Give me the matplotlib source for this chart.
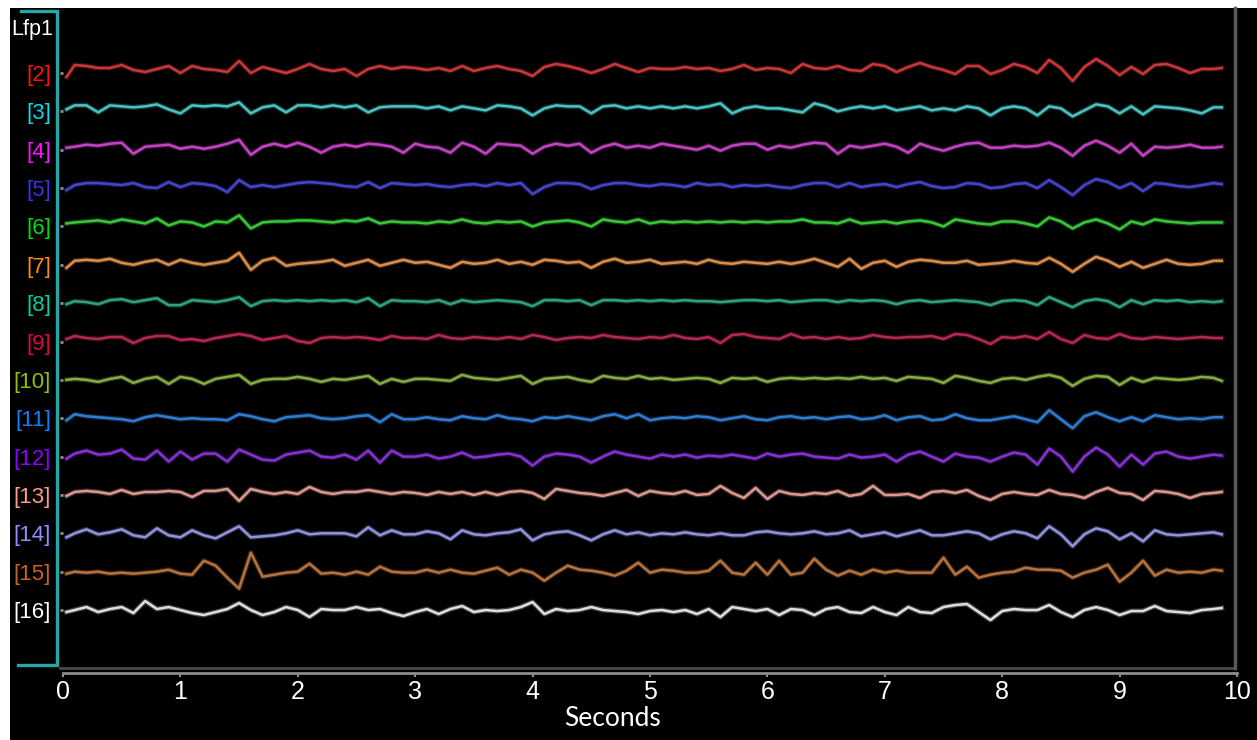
import numpy as np
import matplotlib
matplotlib.use("Agg")
import matplotlib.pyplot as plt
from matplotlib.lines import Line2D
from matplotlib.patches import Rectangle

# ---------------- data ----------------
channels = ['[2]', '[3]', '[4]', '[5]', '[6]', '[7]', '[8]', '[9]', '[10]',
            '[11]', '[12]', '[13]', '[14]', '[15]', '[16]']
label_colors = ['#ff1010', '#00e0ea', '#ff10ff', '#3535e0', '#00e000', '#ff8c00',
                '#00d2a0', '#e6004a', '#8cc400', '#0a82ff', '#8c00ff', '#ff9a86',
                '#8c90ff', '#c8641a', '#ffffff']
trace_colors = ['#d23a3a', '#50cccc', '#cc46cc', '#4848d4', '#3cd03c', '#e69450',
                '#34aa82', '#be2a52', '#8cb446', '#3282dc', '#8c34dc', '#e6a096',
                '#9898e8', '#be7841', '#e8e8e8']
# DC offset of each channel (px, up positive)
dc_offset = [4, 3, 3, 3, 4, 2, 2, 3.5, 1, 0, 0, 2, -1, -1, -1]

# samples every 0.1 s (first at 0.03 s, last at 9.87 s); deflection in px, up positive
lfp = {
 '[2]': [-8, 4, 3, 1, 1, 4, -1, -3, 0, 3, -4, 3, 0, -1, -3, 8, -4, 2, -1, -4,
         0, 5, 0, -2, 0, -7, 0, 3, 0, 2, 1, -1, 1, -2, 3, -2, 1, 3, 0, -2,
         -7, 2, 5, 3, 0, -4, 0, 5, 1, -3, 1, 0, 0, 2, 0, 1, -2, 0, 4, -1,
         1, 0, -4, 5, 1, 0, 3, -1, -2, 5, 3, -3, 2, 6, 2, -1, -5, 3, 3, -5,
         -1, 5, 2, -4, 9, 1, -12, 2, 10, 3, -6, 2, -5, 4, 5, 1, -4, 0, 0, 1],
 '[3]': [-1, 3, 3, -4, 3, 2, 1, 2, 4, -1, -5, 3, 2, 3, 2, 6, -5, 1, 3, -4,
         3, 3, 1, 3, 1, 3, -4, 1, 2, 2, 2, 0, 2, -2, 2, 0, -2, 3, 2, 0,
         -7, 0, 3, 2, 2, -5, 2, 3, 0, 2, 0, 2, 0, 2, 0, 2, 5, -5, 0, 2,
         0, 0, -2, -4, 5, 2, -3, 0, 2, 0, 2, -2, 0, 2, -2, 0, -2, 2, 0, -7,
         0, 2, 0, -7, 2, 0, -8, -2, 4, 2, -5, 2, -6, 2, 1, 0, -2, -5, 1, 1],
 '[4]': [-1, 0, 2, 1, 3, 4, -7, 0, 1, 2, -2, 0, -2, 0, 3, 7, -8, 0, 3, 0,
         4, 0, -6, 0, 2, 0, 3, 2, 0, -6, 3, 0, -1, -6, 4, 0, -7, 3, 2, 1,
         -7, 0, 3, 1, 3, -6, 0, 3, -1, 1, -1, 3, 1, -1, -3, 1, -4, 1, 3, 3,
         -3, 1, -1, 2, 4, 3, -7, 1, -1, 1, 3, 0, -6, 3, -1, -4, 0, 3, 4, -1,
         -1, 1, 0, 1, 4, -1, -9, 1, 6, 1, -6, 3, -9, 0, -1, 0, 2, -1, -1, 0],
 '[5]': [-5, 0, 2, 2, 1, 0, 2, -2, -3, 3, -2, 2, 1, -1, -7, 5, -2, 0, -2, 0,
         2, 3, 2, 1, -1, -2, 3, -3, 2, 1, 0, 1, -1, -2, 0, 1, -1, 2, 0, 2,
         -9, -2, 2, 2, 1, -4, 0, 2, 2, 0, -1, 1, 0, -2, 2, 0, 1, -2, 0, -1,
         0, -2, -3, 0, 2, 2, -2, 2, -2, 0, 1, -2, 1, 3, -1, -3, -2, 2, 1, -3,
         -2, 1, 2, -3, 5, -2, -10, 0, 6, 3, -3, 2, -6, 2, 1, -1, -2, 0, 2, 1],
 '[6]': [-1, 0, 1, 2, 0, 3, 1, -1, 4, -3, 1, 0, -4, 1, 0, 7, -6, 0, 1, 1,
         2, 2, 1, 0, 2, 1, 4, -1, 1, 0, 0, -1, 1, 0, 3, 0, -1, 1, 0, 1,
         -4, 0, 1, 2, 0, -4, 3, 1, 0, 3, -1, 1, 0, 1, 0, 1, 0, 1, 0, 1,
         0, 1, 1, 3, 0, 0, -1, 3, -1, 0, 1, -1, 1, 2, 0, -4, 3, 1, -1, -2,
         1, 1, -1, -4, 5, 1, -6, 0, 3, -1, -7, 1, -2, 3, 1, 0, -1, 0, 0, 0],
 '[7]': [-5, 2, 3, 2, 4, 0, -2, 1, 3, -2, 3, 0, -2, 0, 2, 10, -7, 2, 5, -3,
         -1, 0, 1, 3, -3, 0, 3, -3, 0, 3, 0, 1, -2, -5, 1, -1, 0, 3, -1, 1,
         -2, 3, 2, 0, 1, -5, 1, 4, 0, 1, 3, -1, 0, 1, -1, 3, 0, -1, 1, 0,
         -1, 1, -1, 1, 4, 0, -4, 4, -6, 0, 2, -4, 1, 3, 2, 0, 0, 2, -2, -1,
         0, 2, 0, -1, 5, -1, -9, -1, 6, 2, -4, 1, -5, -1, 3, -1, -2, -1, 2, 2],
 '[8]': [-3, 0, -1, -3, 1, 2, -1, 1, 3, -4, -4, 1, 0, -1, 1, 4, -5, 0, 1, 0,
         1, 0, 1, 0, 1, -1, 3, -5, 1, 0, 0, -1, 1, -3, 1, -1, 0, 1, 0, -1,
         -5, 1, 1, 0, 1, -4, 1, 1, 0, 1, 0, 1, 0, 1, 0, 0, -1, 0, 1, 1,
         0, 1, -1, 0, 1, 1, -1, 1, 0, 1, 0, -3, 0, 1, -1, 0, 1, 0, -1, -4,
         0, 1, 0, -4, 4, -1, -6, 0, 2, 0, -6, 1, -3, 1, 0, 1, -1, 0, -1, 0],
 '[9]': [-1, 2, 0, -1, 1, 1, -5, 0, 2, 2, -2, -1, -3, 0, 2, 4, 2, -2, 0, 2,
         -3, -5, 0, 1, 0, 1, 0, -2, 2, 0, 0, -1, 3, 0, -1, 1, 0, -1, 1, -1,
         3, 1, -2, 0, 1, 0, 3, 1, 0, -1, 1, 0, 3, 0, -1, 1, -5, 3, 4, 1,
         0, -1, 4, 0, 1, -1, 1, -1, 0, 3, 1, 0, 1, 1, 2, -1, 4, 3, -1, -6,
         1, 0, 2, -1, 6, -1, -5, 3, 0, -1, 4, 0, -1, 1, 0, -1, 0, 1, 0, 0],
 '[10]': [-1, 0, -1, -3, 0, 2, -4, 0, 2, -5, 2, 0, -5, 0, 2, 4, -5, -1, 0, 0,
          2, 0, -3, 0, -1, 1, 3, -5, 0, -3, 0, 0, -1, -2, 4, 1, 0, -1, 1, 3,
          -5, 0, 1, 2, -1, -3, 3, 1, 0, 3, 0, 1, -1, 0, 1, 0, -4, 1, 0, 1,
          -3, 0, 1, 0, 1, 0, 1, 0, 2, 0, 1, -2, 2, 1, 0, -4, 3, 1, -2, -4,
          0, 1, -1, 2, 4, 1, -7, 0, 3, 2, -6, 1, -3, 1, 0, -1, 0, 2, 1, -2],
 '[11]': [-2, 4, 2, 1, 0, -1, -3, 1, 3, 1, -1, 0, -1, -1, -2, 4, 2, -1, -3, 1,
          2, 3, 0, -1, 0, 2, 3, -4, 4, -1, -1, 1, -1, -2, 2, 0, -1, 3, 0, -1,
          -3, 1, 0, 2, 0, -2, 2, 4, 0, 4, -2, 0, 1, 0, 2, 1, -2, 0, 2, -1,
          -2, 1, 2, 0, 1, -1, 1, 2, -1, 0, 3, -2, 1, 2, -2, -1, 4, 0, -2, -2,
          0, 2, -1, -4, 8, -1, -10, 2, 6, 1, -3, 1, -3, 3, 1, -1, 0, -1, 1, 1],
 '[12]': [-2, 3, 6, 2, 3, 7, -2, -3, 6, -5, 5, -3, 3, 3, -5, 7, 2, -3, -4, 2,
          4, 6, 0, -1, 2, -3, 6, -6, 6, 0, 0, 2, -2, 0, 4, -1, 0, 2, 3, 0,
          -9, 0, 3, 2, 0, -6, 0, 5, 2, 0, -2, 2, 0, 2, -1, 1, 0, 2, 0, -2,
          3, 0, 2, 3, 0, -1, -2, 2, -1, 0, 2, -5, 2, 5, 0, -5, 3, 0, -1, -5,
          0, 4, 2, -8, 8, 0, -15, 0, 9, 2, -10, 2, -8, 3, 5, 0, -2, 0, 2, 1],
 '[13]': [-3, 1, 2, 1, -1, 3, -1, 1, 1, 2, 1, -4, 2, 2, 4, -8, 4, 1, -1, 1,
          -1, 6, 1, -1, 1, 1, 3, 1, -1, 1, 0, -2, 1, -1, 1, -2, 1, -2, 1, 2,
          0, -6, 4, 2, 0, -1, -3, 0, 3, -3, 2, 0, -1, 2, -2, -1, 7, 0, -5, 5,
          -6, 2, -1, -2, 0, -1, 2, -3, -1, 7, -2, -2, -1, -5, 1, 2, 0, 3, -3, -7,
          -1, 1, -1, -2, 3, -1, -2, -5, 1, 5, 0, -1, -7, 2, 1, -1, -5, -1, 0, 1],
 '[14]': [-3, 1, 5, 0, 2, 5, -1, -3, 6, -1, -3, 4, -1, -4, 2, 8, -3, -2, -1, 1,
          4, 0, 1, 1, 1, -2, 7, -1, 4, 0, 0, 3, 1, -5, 4, 0, -1, 1, 2, 5,
          -6, 0, 2, 3, -1, -6, 0, 4, 0, 2, -1, 1, 0, 2, 0, -1, 1, -1, -1, 2,
          3, 1, 0, 1, 3, 0, 1, 4, -2, 0, 2, -2, 1, 4, -1, -1, 1, 3, 1, -5,
          0, 3, 1, -4, 8, 0, -12, 0, 6, 3, -5, 1, -7, 4, 0, -1, 0, 1, 2, 0],
 '[15]': [-1, 1, 0, 1, -1, 0, -1, 0, 1, 3, -1, -2, 12, 7, -5, -16, 20, -4, -2, 0,
          1, 9, -1, 0, -2, 1, -2, 6, 1, 0, 0, 3, 0, 3, 0, -1, 2, 5, -2, 3,
          0, -8, 0, 7, 3, 2, 0, -3, 2, 10, 0, 3, 2, 0, 0, 2, 12, 0, -2, 10,
          -2, 12, -2, 0, 14, 3, -3, 2, -2, 3, 0, 2, 0, 0, 0, 15, -2, 6, -5, -2,
          0, 1, 5, 3, 3, 2, -5, 0, 3, 8, -9, 0, 12, -3, 3, 0, 1, 0, 3, 2],
 '[16]': [-1, 1, 4, -1, 2, 4, -2, 10, 2, 4, 1, -2, -4, -1, 2, 8, 1, -4, -1, 4,
          1, -6, 2, 1, 1, 4, 1, 2, -2, -5, -1, 2, -3, 2, 5, -1, 1, 0, 1, 4,
          9, -3, 2, 0, 1, 4, 1, 0, -1, -3, 0, 1, -1, 1, -3, 2, -6, 4, 2, 0,
          2, -4, 2, 1, -4, 2, 4, -1, -2, 4, -1, -4, 4, -1, -2, 4, 6, 7, -1, -9,
          0, 2, 1, 1, 6, -1, -6, 1, 4, 1, -4, 0, 0, 5, 0, -1, -2, 1, 2, 3],
}
t = np.arange(100) * 0.1
t[0], t[-1] = 0.03, 9.87
x_ticks = list(range(11))

# ---------------- figure ----------------
W, H = 1257, 740
fig = plt.figure(figsize=(W / 100, H / 100), dpi=100, facecolor='white')
fig.add_artist(Rectangle((10 / W, 0), 1 - 10 / W, 1 - 8 / H, transform=fig.transFigure,
                         facecolor='black', edgecolor='none', zorder=-10))

top_px, bot_px, left_px, right_px = 8, 668, 63, 1237
ax = fig.add_axes([left_px / W, 1 - bot_px / H, (right_px - left_px) / W, (bot_px - top_px) / H])
ax.set_facecolor('none')
ax.set_xlim(0, 10)
ax.set_ylim(bot_px, top_px)   # rows in pixel units

spacing = 38.36
rows = [73 + spacing * i for i in range(len(channels))]

for i, ch in enumerate(channels):
    y = rows[i] - dc_offset[i] - np.array(lfp[ch], dtype=float)
    ax.plot(t, y, color=trace_colors[i], lw=3.6, alpha=0.28, solid_joinstyle='round')
    ax.plot(t, y, color=trace_colors[i], lw=1.8, alpha=0.95, solid_joinstyle='round')

for s in ['top', 'right', 'left']:
    ax.spines[s].set_visible(False)
ax.spines['bottom'].set_position(('outward', 3.6))
ax.spines['bottom'].set_color('#8c8c8c')
ax.spines['bottom'].set_linewidth(2)

ax.set_xticks(x_ticks)
ax.set_xticklabels([str(v) for v in x_ticks])
ax.tick_params(axis='x', colors='#8c8c8c', labelcolor='white', length=3, width=1.5,
               direction='out', pad=2, labelsize=18)
for lab in ax.get_xticklabels():
    lab.set_fontfamily('Liberation Sans')

ax.set_yticks(rows)
ax.set_yticklabels(channels)
ax.tick_params(axis='y', colors='#909090', length=2, width=2, direction='out', pad=6.5,
               labelsize=16)
for lab, c in zip(ax.get_yticklabels(), label_colors):
    lab.set_color(c)
    lab.set_fontfamily('Liberation Sans')

# plot frame lines
ax.axhline(bot_px, xmin=-3 / 1174, xmax=(1235 - left_px) / 1174, color='#4a4a4a', lw=2, clip_on=False)
ax.axvline(9.98, color='#5a5a5a', lw=2.5, clip_on=False)

# cyan bracket
fig.add_artist(Line2D([21 / W, 57 / W, 57 / W, 18 / W],
                      [1 - 11 / H, 1 - 11 / H, 1 - 665 / H, 1 - 665 / H],
                      transform=fig.transFigure, color='#26a6a4', lw=2.4,
                      solid_joinstyle='miter'))

fig.text(32 / W, 1 - 29 / H, 'Lfp1', color='white', fontsize=15.5, ha='center', va='center',
         family='Liberation Sans')
fig.text(613 / W, 1 - 718 / H, 'Seconds', color='white', fontsize=19, ha='center', va='center',
         family='Lato')

fig.savefig('out.png', dpi=100, facecolor=fig.get_facecolor())
